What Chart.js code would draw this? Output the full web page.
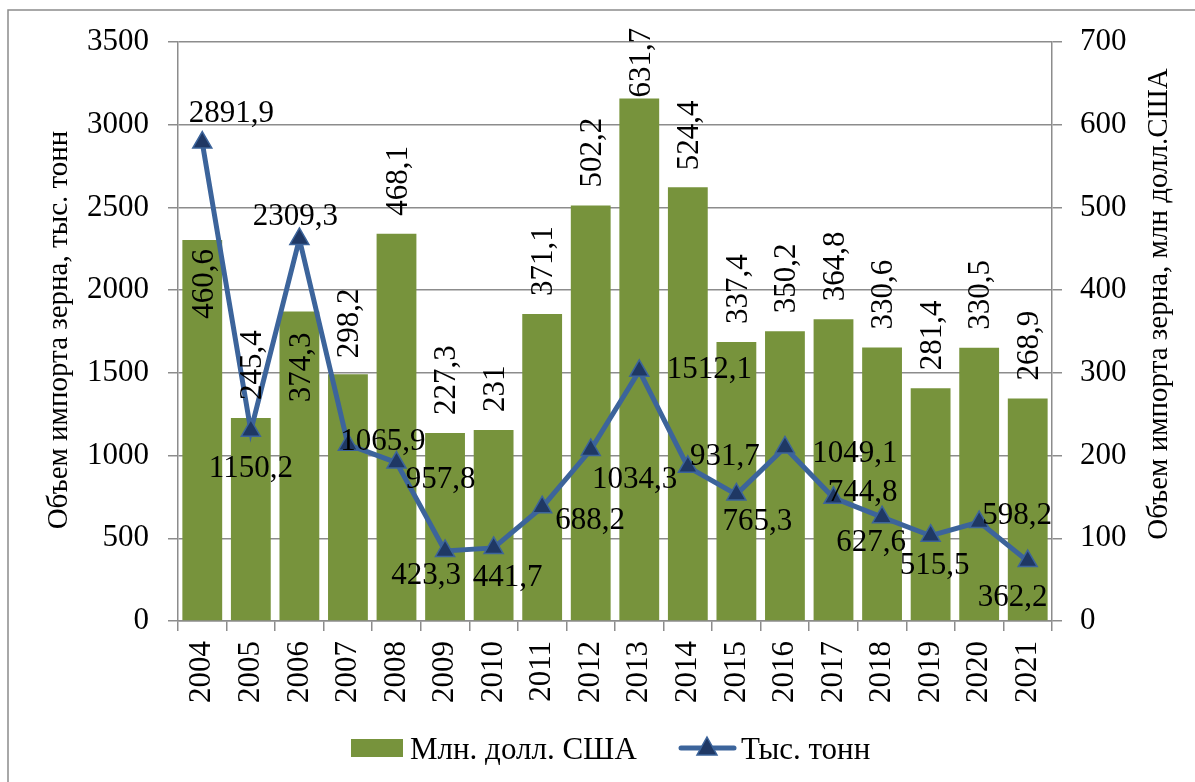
<!DOCTYPE html>
<html lang="ru">
<head>
<meta charset="utf-8">
<title>Импорт зерна</title>
<script src="https://cdn.jsdelivr.net/npm/chart.js@4.4.1/dist/chart.umd.min.js"></script>
<style>
  html, body { margin: 0; padding: 0; background: #fff; }
  #wrap { width: 1195px; height: 782px; }
</style>
</head>
<body>
<div id="wrap"><canvas id="grain" width="1195" height="782"></canvas></div>
<script>
/* ---- data -------------------------------------------------------- */
const years = ["2004", "2005", "2006", "2007", "2008", "2009", "2010", "2011", "2012",
               "2013", "2014", "2015", "2016", "2017", "2018", "2019", "2020", "2021"];
const usdMln  = [460.6, 245.4, 374.3, 298.2, 468.1, 227.3, 231, 371.1, 502.2,
                 631.7, 524.4, 337.4, 350.2, 364.8, 330.6, 281.4, 330.5, 268.9];
const kTonnes = [2891.9, 1150.2, 2309.3, 1065.9, 957.8, 423.3, 441.7, 688.2, 1034.3,
                 1512.1, 931.7, 765.3, 1049.1, 744.8, 627.6, 515.5, 598.2, 362.2];
const leftTicks  = [0, 500, 1000, 1500, 2000, 2500, 3000, 3500];
const rightTicks = [0, 100, 200, 300, 400, 500, 600, 700];

/* ---- look -------------------------------------------------------- */
const FONT   = "'Liberation Serif', 'Times New Roman', serif";
const FS     = 31;
const C_BAR  = "#77933C";
const C_LINE = "#3C649B";
const C_MARK = "#1F3864";
const C_GRID = "#8C8C8C";

/* label placement, relative to the mark (px) */
const lineLabelShift = [[29, -31], [0, 36], [-4, -24], [35, -5], [44, 15], [-19, 23],
                        [14, 28], [48, 12], [44, 28], [70, -3], [37, -12], [21, 25],
                        [70, 4], [29, -7], [-11, 24], [4, 28], [38, -8], [-15, 35]];
/* >0: gap above the bar top, <0: inside, below the bar top */
const barLabelGap = [-9, 18, -21, 16, 18, 18, 18, 18, 18, 1, 17, 18, 18, 18, 18, 18, 18, 18];

function fmt(v) { return String(v).replace(".", ","); }

/* ---- value labels ------------------------------------------------ */
const valueLabels = {
  id: "valueLabels",
  afterDatasetsDraw(chart) {
    const ctx = chart.ctx;
    ctx.save();
    ctx.font = FS + "px " + FONT;
    ctx.fillStyle = "#000";
    ctx.textBaseline = "alphabetic";

    chart.getDatasetMeta(0).data.forEach((bar, i) => {
      const g = barLabelGap[i];
      ctx.save();
      ctx.translate(bar.x, bar.y - g);
      ctx.rotate(-Math.PI / 2);
      ctx.textAlign = g < 0 ? "right" : "left";
      ctx.fillText(fmt(usdMln[i]), 0, FS * 0.33);
      ctx.restore();
    });

    ctx.textAlign = "center";
    chart.getDatasetMeta(1).data.forEach((pt, i) => {
      const [dx, dy] = lineLabelShift[i];
      ctx.fillText(fmt(kTonnes[i]), pt.x + dx, pt.y + dy + FS * 0.33);
    });
    ctx.restore();
  }
};

/* ---- frame, axis titles, legend ---------------------------------- */
function vtext(ctx, txt, x, y) {
  ctx.save();
  ctx.translate(x, y);
  ctx.rotate(-Math.PI / 2);
  ctx.textAlign = "center";
  ctx.fillText(txt, 0, 29 * 0.33);
  ctx.restore();
}

const decorations = {
  id: "decorations",
  beforeDraw(chart) {
    const ctx = chart.ctx;
    ctx.save();
    ctx.fillStyle = "#fff";
    ctx.fillRect(0, 0, chart.width, chart.height);
    ctx.strokeStyle = C_GRID;
    ctx.lineWidth = 1.5;
    ctx.strokeRect(8, 10, chart.width + 20, chart.height + 20);
    ctx.restore();
  },
  afterDraw(chart) {
    const ctx = chart.ctx;
    ctx.save();
    ctx.fillStyle = "#000";
    ctx.font = "29px " + FONT;
    vtext(ctx, "Объем импорта зерна, тыс. тонн", 57, 330);
    vtext(ctx, "Объем импорта зерна, млн долл.США", 1157, 304);

    /* legend */
    ctx.font = FS + "px " + FONT;
    ctx.textAlign = "left";
    ctx.fillStyle = C_BAR;
    ctx.fillRect(351, 739, 52, 18);
    ctx.fillStyle = "#000";
    ctx.fillText("Млн. долл. США", 410, 759);

    ctx.strokeStyle = C_LINE;
    ctx.lineWidth = 5;
    ctx.lineCap = "round";
    ctx.beginPath();
    ctx.moveTo(681, 748);
    ctx.lineTo(734, 748);
    ctx.stroke();
    ctx.beginPath();
    ctx.moveTo(707, 737);
    ctx.lineTo(717, 755);
    ctx.lineTo(697, 755);
    ctx.closePath();
    ctx.fillStyle = C_MARK;
    ctx.fill();
    ctx.lineWidth = 1.5;
    ctx.stroke();
    ctx.fillStyle = "#000";
    ctx.fillText("Тыс. тонн", 741, 759);
    ctx.restore();
  }
};

/* ---- chart ------------------------------------------------------- */
const tickFont = { family: FONT, size: FS };
const plainNum = (v) => String(v);

new Chart(document.getElementById("grain"), {
  type: "bar",
  data: {
    labels: years,
    datasets: [
      {
        type: "bar",
        label: "Млн. долл. США",
        data: usdMln,
        yAxisID: "y1",
        backgroundColor: C_BAR,
        barPercentage: 0.82,
        categoryPercentage: 1,
        order: 1,
      },
      {
        type: "line",
        label: "Тыс. тонн",
        data: kTonnes,
        yAxisID: "y",
        borderColor: C_LINE,
        borderWidth: 5,
        pointStyle: "triangle",
        pointRadius: 11,
        pointBackgroundColor: C_MARK,
        pointBorderColor: C_LINE,
        pointBorderWidth: 1.5,
        tension: 0,
        order: 0,
      },
    ],
  },
  options: {
    responsive: false,
    animation: false,
    devicePixelRatio: 1,
    layout: { padding: { top: 42, left: 0, right: 0, bottom: 0 } },
    plugins: {
      legend: { display: false },
      tooltip: { enabled: false },
    },
    scales: {
      x: {
        offset: true,
        grid: { drawOnChartArea: false, color: C_GRID, lineWidth: 1.5, tickLength: 10, offset: true },
        border: { color: C_GRID, width: 1.5 },
        ticks: { color: "#000", font: tickFont, minRotation: 90, maxRotation: 90, padding: 10, autoSkip: false },
        afterFit(s) { s.height = 161; },
      },
      y: {
        position: "left",
        min: 0, max: 3500,
        afterBuildTicks(s) { s.ticks = leftTicks.map((v) => ({ value: v })); },
        grid: { color: C_GRID, lineWidth: 1.5, tickLength: 10 },
        border: { color: C_GRID, width: 1.5 },
        ticks: { color: "#000", font: tickFont, padding: 19, callback: plainNum },
        afterFit(s) { s.width = 178; },
      },
      y1: {
        position: "right",
        min: 0, max: 700,
        afterBuildTicks(s) { s.ticks = rightTicks.map((v) => ({ value: v })); },
        grid: { drawOnChartArea: false, color: C_GRID, lineWidth: 1.5, tickLength: 10 },
        border: { color: C_GRID, width: 1.5 },
        ticks: { color: "#000", font: tickFont, padding: 18, callback: plainNum },
        afterFit(s) { s.width = 143; },
      },
    },
  },
  plugins: [decorations, valueLabels],
});
</script>
</body>
</html>
